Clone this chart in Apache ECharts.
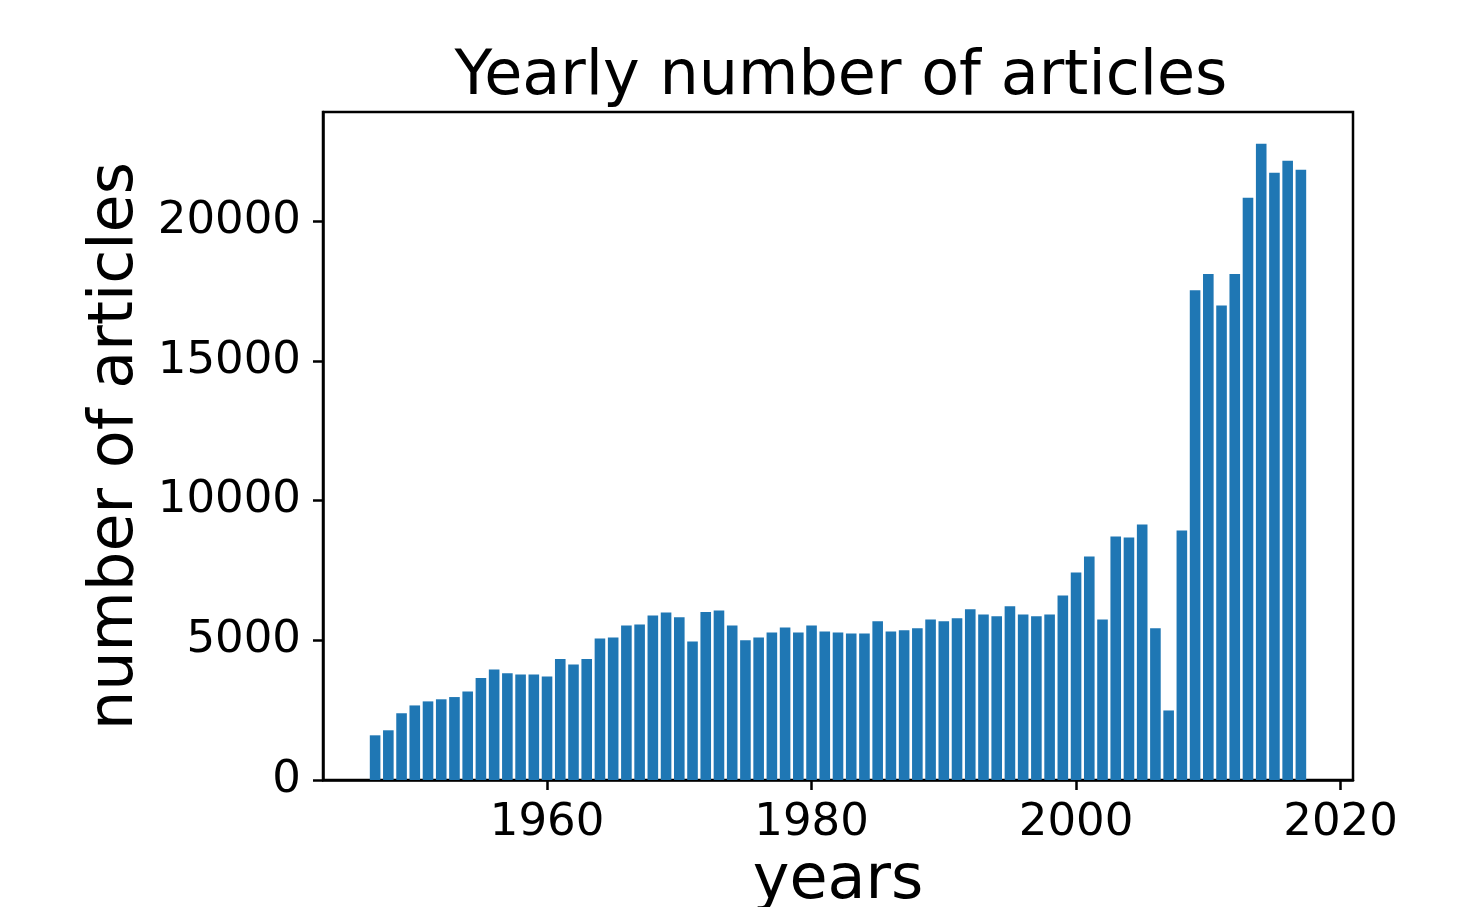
<!DOCTYPE html>
<html>
<head>
<meta charset="utf-8">
<script src="https://cdn.jsdelivr.net/npm/echarts@6/dist/echarts.min.js"></script>
<style>
html,body{margin:0;padding:0;background:#fff;}
#chart{width:1462px;height:907px;}
</style>
</head>
<body>
<div id="chart"></div>
<script>
const years = [1947,1948,1949,1950,1951,1952,1953,1954,1955,1956,1957,1958,1959,1960,
  1961,1962,1963,1964,1965,1966,1967,1968,1969,1970,1971,1972,1973,1974,1975,1976,1977,1978,1979,1980,
  1981,1982,1983,1984,1985,1986,1987,1988,1989,1990,1991,1992,1993,1994,1995,1996,1997,1998,1999,2000,
  2001,2002,2003,2004,2005,2006,2007,2008,2009,2010,2011,2012,2013,2014,2015,2016,2017];
const counts = [1600,1780,2390,2670,2815,2890,2970,3170,3650,3960,3820,3780,3780,3710,
  4330,4140,4330,5070,5100,5530,5570,5890,6000,5830,4960,6020,6070,5530,5000,5100,5280,5460,5280,5530,
  5320,5280,5250,5250,5680,5320,5360,5430,5750,5680,5790,6110,5930,5860,6220,5930,5860,5930,6610,7430,
  8000,5750,8720,8680,9150,5430,2490,8930,17540,18120,16990,18120,20850,22780,21740,22170,21850];
const xTicks = [1960,1980,2000,2020];
const yTicks = [0,5000,10000,15000,20000];

const font = 'DejaVu Sans';
const chart = echarts.init(document.getElementById('chart'), null, {renderer:'canvas'});
const barData = years.map((y,i)=>[y,counts[i]]);
const xMin = 1946.6 - 0.05*70.8, xMax = 2017.4 + 0.05*70.8;
const yMax = Math.max(...counts)*1.05;

chart.setOption({
  animation:false,
  backgroundColor:'#ffffff',
  title:{
    text:'Yearly number of articles',
    left:836, textAlign:'center', top:42,
    textStyle:{fontFamily:font,fontSize:62,fontWeight:'normal',color:'#000'}
  },
  grid:{left:323,right:109,top:112,bottom:127,outerBoundsMode:'none',containLabel:false,
    show:true,borderColor:'#000',borderWidth:2.5,backgroundColor:'transparent'},
  xAxis:{
    type:'value', min:xMin, max:xMax,
    name:'years', nameLocation:'middle', nameGap:63,
    nameTextStyle:{fontFamily:font,fontSize:62,color:'#000'},
    axisLine:{show:true,onZero:false,lineStyle:{color:'#000',width:2.5}},
    axisTick:{show:true,customValues:xTicks,length:10,lineStyle:{color:'#000',width:2.5}},
    axisLabel:{customValues:xTicks,formatter:v=>String(v),fontFamily:font,fontSize:45,color:'#000',margin:21},
    splitLine:{show:false}
  },
  yAxis:{
    type:'value', min:0, max:yMax,
    name:'number of articles', nameLocation:'middle', nameGap:168, nameRotate:90,
    nameTextStyle:{fontFamily:font,fontSize:62,color:'#000'},
    axisLine:{show:true,lineStyle:{color:'#000',width:2.5}},
    axisTick:{show:true,customValues:yTicks,length:10,lineStyle:{color:'#000',width:2.5}},
    axisLabel:{customValues:yTicks,formatter:v=>String(v),fontFamily:font,fontSize:45,color:'#000',margin:22},
    splitLine:{show:false}
  },
  series:[{
    type:'bar',
    data:barData,
    barWidth:10.6,
    itemStyle:{color:'#1f77b4'}
  }]
});
</script>
</body>
</html>
